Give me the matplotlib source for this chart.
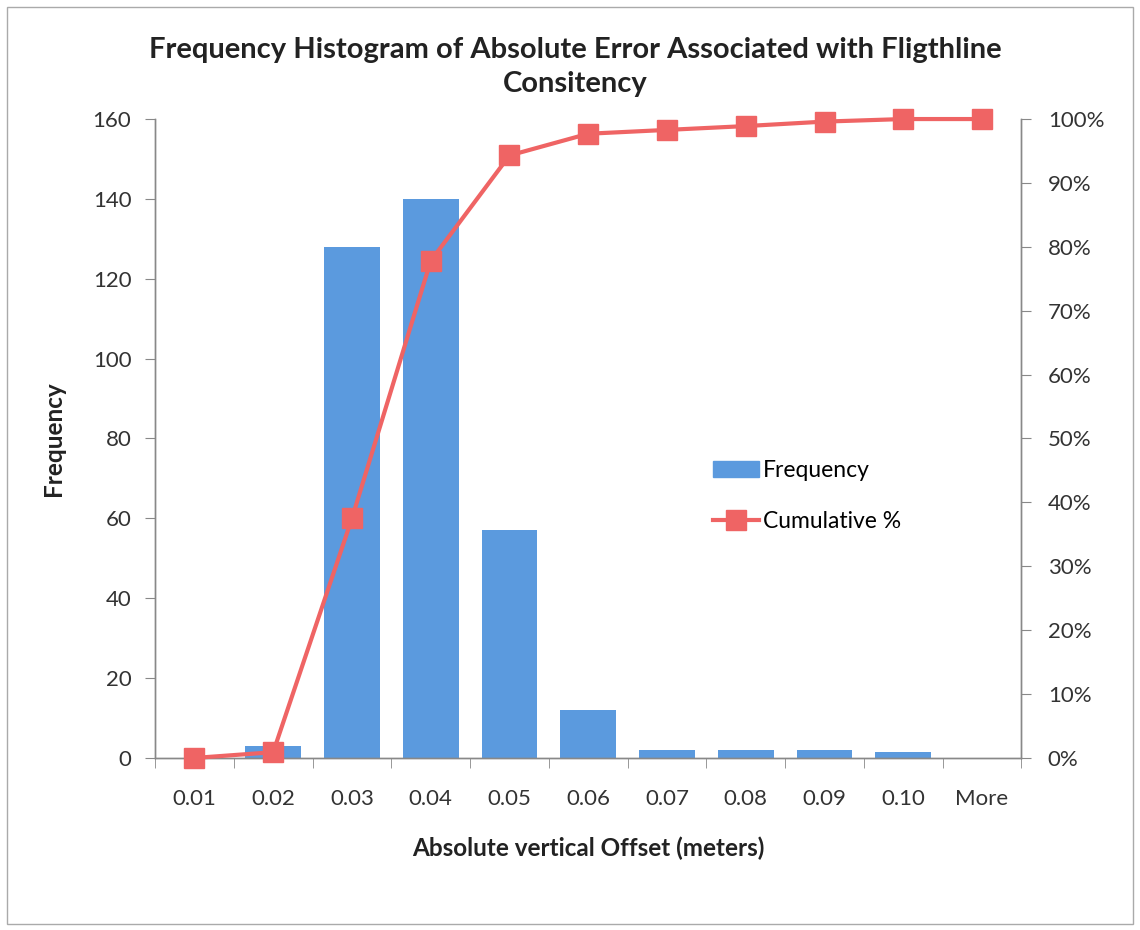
import matplotlib.pyplot as plt
import matplotlib.patches as mpatches
import numpy as np

plt.rcParams['font.family'] = ['Lato', 'DejaVu Sans']

# values
bins = ['0.01', '0.02', '0.03', '0.04', '0.05', '0.06', '0.07', '0.08', '0.09', '0.10', 'More']
frequency = [0, 3, 128, 140, 57, 12, 2, 2, 2, 1.5, 0]
cumulative = [0, 0.9, 37.5, 77.8, 94.3, 97.7, 98.3, 98.9, 99.6, 100, 100]

bar_color = '#5b9ade'
line_color = '#ef6464'
axis_gray = '#888888'

fig = plt.figure(figsize=(11.4, 9.3), dpi=100)
ax = fig.add_axes([0.136, 0.185, 0.760, 0.687])
ax2 = ax.twinx()

x = np.arange(len(bins))
ax.bar(x, frequency, width=0.71, color=bar_color, label='Frequency', zorder=2)
ax2.plot(x, cumulative, color=line_color, lw=3, marker='s', markersize=14,
         label='Cumulative %', zorder=3, clip_on=False)

ax.set_xlim(-0.5, len(bins) - 0.5)
ax.set_ylim(0, 160)
ax2.set_ylim(0, 100)
ax.set_yticks(np.arange(0, 161, 20))
ax2.set_yticks(np.arange(0, 101, 10))
ax2.set_yticklabels([f'{v}%' for v in range(0, 101, 10)])

# category labels centred, ticks between categories
ax.set_xticks(x)
ax.set_xticklabels(bins)
ax.set_xticks(np.arange(-0.5, len(bins)), minor=True)
ax.tick_params(axis='x', which='major', length=0, pad=22, labelsize=16, labelcolor='#333333')
ax.tick_params(axis='x', which='minor', length=7, color=axis_gray, direction='out')
ax.tick_params(axis='y', length=7, color=axis_gray, labelsize=16, pad=10, labelcolor='#333333')
ax2.tick_params(axis='y', length=7, color=axis_gray, labelsize=16, pad=12, labelcolor='#333333')

for a in (ax, ax2):
    a.spines['top'].set_visible(False)
    for s in ('left', 'right', 'bottom'):
        a.spines[s].set_color(axis_gray)
        a.spines[s].set_linewidth(1)

ax.set_xlabel('Absolute vertical Offset (meters)', fontsize=17.5, fontweight='bold',
              labelpad=20, color='#222222')
ax.set_ylabel('Frequency', fontsize=17.5, fontweight='bold', labelpad=20, color='#222222')

fig.text(0.505, 0.928, 'Frequency Histogram of Absolute Error Associated with Fligthline\nConsitency',
         ha='center', va='center', fontsize=21, fontweight='bold', color='#222222',
         linespacing=1.4)

handles = [mpatches.Patch(color=bar_color),
           plt.Line2D([], [], color=line_color, lw=3, marker='s', markersize=14)]
ax.legend(handles, ['Frequency', 'Cumulative %'], loc='upper left',
          bbox_to_anchor=(0.62, 0.498), frameon=False, fontsize=16.5,
          handlelength=2.0, handletextpad=0.2, labelspacing=1.3)

# outer chart border
fig.patches.append(mpatches.Rectangle((0.006, 0.006), 0.988, 0.986, transform=fig.transFigure,
                                      fill=False, edgecolor='#aaaaaa', lw=1))

fig.savefig('out.png', dpi=100)
